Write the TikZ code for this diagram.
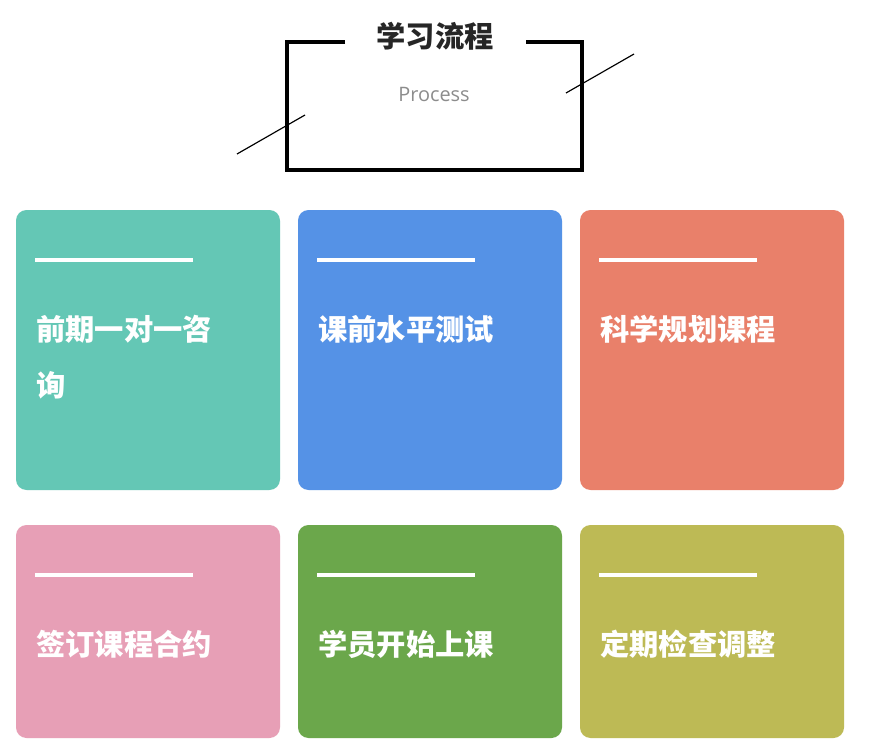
\documentclass[tikz,border=0pt]{standalone}
\usepackage{fontspec}
\newfontfamily\cjk{Noto Sans CJK SC}
\setmainfont{Open Sans}
\usetikzlibrary{positioning}
\definecolor{cteal}{HTML}{64C7B5}
\definecolor{cblue}{HTML}{5592E6}
\definecolor{corange}{HTML}{E9806A}
\definecolor{cpink}{HTML}{E79FB6}
\definecolor{cgreen}{HTML}{6BA74B}
\definecolor{colive}{HTML}{BDBA55}
\tikzset{
  card/.style={rounded corners=9pt},
  cardtext/.style={anchor=west,text=white,font=\cjk\bfseries\fontsize{25}{48}\selectfont,align=left,inner sep=0pt},
  bar/.style={white,line width=3pt}
}
\begin{document}
\begin{tikzpicture}[x=0.03cm,y=-0.03cm]
\useasboundingbox (0,0) rectangle (870,752);
\fill[white] (0,0) rectangle (870,752);

% Header
\draw[line width=3.5pt] (345,42) -- (287,42) -- (287,170) -- (582,170) -- (582,42) -- (526,42);
\node[font=\cjk\bfseries\fontsize{25}{30}\selectfont,text=black!85] (title) at (435,36) {学习流程};
\node[font=\fontsize{17}{20}\selectfont,text=black!45] (sub) at (434,94) {Process};
\draw[line width=1pt] (237,154) -- (305,115);
\draw[line width=1pt] (566,93) -- (634,54);

% Cards
\foreach \x/\y/\h/\col/\name/\txt in {
  16/210/280/cteal/c1/{前期一对一咨\\询},
  298/210/280/cblue/c2/课前水平测试,
  580/210/280/corange/c3/科学规划课程,
  16/525/213/cpink/c4/签订课程合约,
  298/525/213/cgreen/c5/学员开始上课,
  580/525/213/colive/c6/定期检查调整}{
  \fill[card,\col] (\x,\y) rectangle ++(264,\h);
  \draw[bar] (\x+19,\y+50) -- ++(158,0);
  \node[cardtext,anchor=north west] (\name) at (\x+20,\y+105) {\txt};
}
\end{tikzpicture}
\end{document}
